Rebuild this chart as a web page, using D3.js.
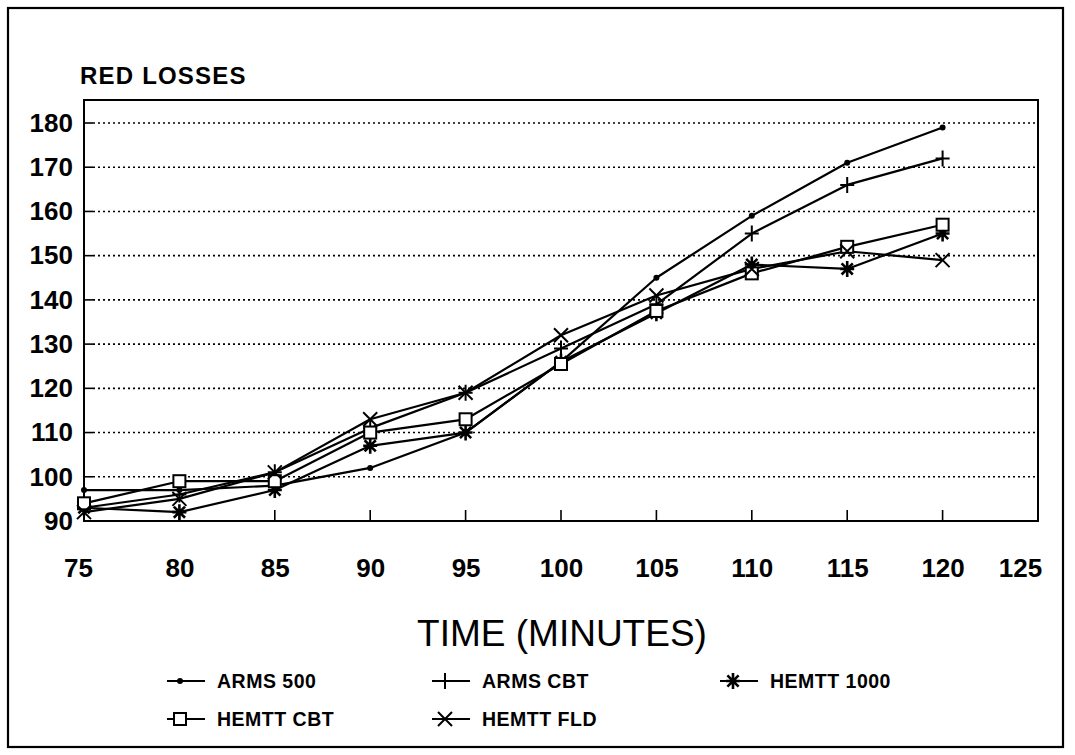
<!DOCTYPE html>
<html><head><meta charset="utf-8">
<script src="https://cdn.jsdelivr.net/npm/d3@7"></script>
<style>body{margin:0;background:#fff}svg{display:block}text{font-family:"Liberation Sans",Arial,sans-serif;fill:#000}</style>
</head><body><svg id="c" width="1075" height="755"></svg>
<script>
const times = [75, 80, 85, 90, 95, 100, 105, 110, 115, 120];
const arms500   = [97, 97, 98, 102, 110, 126, 145, 159, 171, 179];
const armsCbt   = [93, 96, 101, 111, 119, 129, 139, 155, 166, 172];
const hemtt1000 = [93, 92, 97, 107, 110, 126, 137, 148, 147, 155];
const hemttCbt  = [94, 99, 99, 110, 113, 125.5, 137.5, 146, 152, 157];
const hemttFld  = [92, 95, 101, 113, 119, 132, 141, 147, 151, 149];
const seriesNames = ["ARMS 500", "ARMS CBT", "HEMTT 1000", "HEMTT CBT", "HEMTT FLD"];
const seriesSymbols = ["dot", "plus", "star", "square", "cross"];
const xTicks = [75, 80, 85, 90, 95, 100, 105, 110, 115, 120, 125];
const yTicks = [90, 100, 110, 120, 130, 140, 150, 160, 170, 180];

const svg = d3.select("#c");
const L = 84, R = 1038, T = 100, B = 521;
const x = d3.scaleLinear().domain([75, 125]).range([L, R]);
const y = d3.scaleLinear().domain([90, 180]).range([B, 123]);

svg.append("rect").attr("x", 8).attr("y", 8).attr("width", 1055).attr("height", 739)
  .attr("fill", "none").attr("stroke", "#000").attr("stroke-width", 2.2);
svg.append("rect").attr("x", L).attr("y", T).attr("width", R - L).attr("height", B - T)
  .attr("fill", "none").attr("stroke", "#000").attr("stroke-width", 2);

const gy = svg.append("g");
yTicks.filter(v => v > 90).forEach(v => {
  gy.append("line").attr("x1", L).attr("x2", L + 9).attr("y1", y(v)).attr("y2", y(v))
    .attr("stroke", "#000").attr("stroke-width", 1.6);
  gy.append("line").attr("x1", L + 9).attr("x2", R).attr("y1", y(v)).attr("y2", y(v))
    .attr("stroke", "#000").attr("stroke-width", 1.6).attr("stroke-dasharray", "2,3");
});

const yAxis = d3.axisLeft(y).tickValues(yTicks).tickSize(0).tickPadding(11).tickFormat(d3.format("d"));
const ya = svg.append("g").attr("transform", `translate(${L},0)`).call(yAxis);
ya.select(".domain").remove();
ya.selectAll("text").attr("font-size", 26).attr("font-weight", "bold").attr("font-family", "Liberation Sans, Arial, sans-serif");

const xAxis = d3.axisBottom(x).tickValues(xTicks).tickSize(0).tickPadding(56).tickFormat(d3.format("d"));
const xa = svg.append("g").attr("transform", `translate(0,${B})`).call(xAxis);
xa.select(".domain").remove();
xa.selectAll("text").attr("font-size", 26).attr("font-weight", "bold").attr("font-family", "Liberation Sans, Arial, sans-serif")
  .attr("dy", "0").attr("dx", d => d === 125 ? -18 : (d === 75 ? -6 : 0));
xTicks.slice(1, -1).forEach(t => {
  svg.append("line").attr("x1", x(t)).attr("x2", x(t)).attr("y1", B).attr("y2", B - 11)
    .attr("stroke", "#000").attr("stroke-width", 1.6);
});

svg.append("text").attr("x", 80).attr("y", 84).attr("font-size", 24).attr("letter-spacing", 1.2).attr("font-weight", "bold").text("RED LOSSES");
svg.append("text").attr("x", 562).attr("y", 646).attr("text-anchor", "middle").attr("font-size", 37).text("TIME (MINUTES)");

function drawSymbol(g, type, cx, cy) {
  const s = 7;
  if (type === "dot") {
    g.append("circle").attr("cx", cx).attr("cy", cy).attr("r", 3).attr("fill", "#000");
  } else if (type === "plus") {
    g.append("path").attr("d", `M${cx-s},${cy}H${cx+s}M${cx},${cy-s-1}V${cy+s+1}`).attr("stroke", "#000").attr("stroke-width", 2).attr("fill", "none");
  } else if (type === "star") {
    const d = s * 0.8;
    g.append("path").attr("d", `M${cx-s},${cy}H${cx+s}M${cx},${cy-s-1}V${cy+s+1}M${cx-d},${cy-d}L${cx+d},${cy+d}M${cx-d},${cy+d}L${cx+d},${cy-d}`)
      .attr("stroke", "#000").attr("stroke-width", 2.6).attr("fill", "none");
  } else if (type === "square") {
    g.append("rect").attr("x", cx - 6).attr("y", cy - 6).attr("width", 12).attr("height", 12)
      .attr("stroke", "#000").attr("stroke-width", 2).attr("fill", "#fff");
  } else if (type === "cross") {
    g.append("path").attr("d", `M${cx-s},${cy-s}L${cx+s},${cy+s}M${cx-s},${cy+s}L${cx+s},${cy-s}`)
      .attr("stroke", "#000").attr("stroke-width", 2).attr("fill", "none");
  }
}

const allSeries = [arms500, armsCbt, hemtt1000, hemttCbt, hemttFld];
const line = d3.line().x((d, i) => x(times[i])).y(d => y(d));
const plot = svg.append("g");
allSeries.forEach(vals => {
  plot.append("path").datum(vals).attr("d", line).attr("fill", "none").attr("stroke", "#000")
    .attr("stroke-width", 2.2).attr("stroke-linejoin", "round");
});
allSeries.forEach((vals, k) => {
  vals.forEach((v, i) => drawSymbol(plot, seriesSymbols[k], x(times[i]), y(v)));
});

const legPos = [[167, 681], [432, 681], [720, 681], [167, 719], [432, 719]];
seriesNames.forEach((name, k) => {
  const [lx, ly] = legPos[k];
  const g = svg.append("g");
  g.append("line").attr("x1", lx).attr("x2", lx + 38).attr("y1", ly).attr("y2", ly).attr("stroke", "#000").attr("stroke-width", 2);
  drawSymbol(g, seriesSymbols[k], lx + 13, ly);
  g.append("text").attr("x", lx + 50).attr("y", ly + 7).attr("font-size", 19.5).attr("letter-spacing", 0.5).attr("font-weight", "bold").text(name);
});
</script></body></html>
